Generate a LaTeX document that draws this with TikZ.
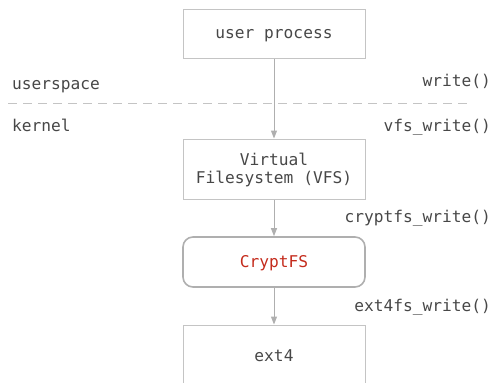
\documentclass[tikz,border=0pt]{standalone}
\usepackage{fontspec}
\setmonofont{DejaVu Sans Mono}
\usetikzlibrary{arrows.meta}
\definecolor{txt}{HTML}{474747}
\definecolor{boxline}{HTML}{C4C4C4}
\definecolor{arrowline}{HTML}{AFAFAF}
\definecolor{cryptred}{HTML}{C42B1C}
\begin{document}
\begin{tikzpicture}[x=1pt,y=-1pt,
  every node/.style={font=\ttfamily\fontsize{16.2}{18}\selectfont, text=txt},
  layerbox/.style={draw=boxline, line width=1pt, minimum width=182pt, inner sep=0pt},
  cryptbox/.style={draw=arrowline, line width=1.6pt, rounded corners=10pt, minimum width=182pt, minimum height=50pt, inner sep=0pt},
  boxtext/.style={anchor=base, inner sep=0pt},
  flow/.style={draw=arrowline, line width=1pt, -{Triangle[width=6pt,length=8pt]}},
  callname/.style={anchor=base east, inner sep=0pt},
  zonename/.style={anchor=base west, inner sep=0pt}]
\useasboundingbox (0,0) rectangle (491,383);
\clip (0,0) rectangle (491,383);
% boxes of the write path
\node[layerbox, minimum height=49pt] (user) at (274,33.5) {};
\node[boxtext] (userT) at (274,38) {user process};
\node[layerbox, minimum height=60pt] (vfs) at (274,169) {};
\node[boxtext] (vfsT1) at (274,165) {Virtual};
\node[boxtext] (vfsT2) at (274,183) {Filesystem (VFS)};
\node[cryptbox] (crypt) at (274,262) {};
\node[boxtext, text=cryptred] (cryptT) at (274,267) {CryptFS};
\node[layerbox, minimum height=70pt] (ext) at (274,360) {};
\node[boxtext] (extT) at (274,361) {ext4};
% boundary between user space and kernel
\coordinate (sepL) at (8,103);
\coordinate (sepR) at (472,103);
\draw[boxline, line width=1pt, dash pattern=on 9pt off 6pt] (sepL) -- (sepR);
\node[zonename] (us) at (12,89) {userspace};
\node[zonename] (kn) at (12,131) {kernel};
% call arrows
\draw[flow] (user) -- (vfs);
\draw[flow] (vfs) -- (crypt);
\draw[flow] (crypt) -- (ext);
% function names
\node[callname] (c1) at (491,86) {write()};
\node[callname] (c2) at (491,131) {vfs\_write()};
\node[callname] (c3) at (491,222) {cryptfs\_write()};
\node[callname] (c4) at (491,311) {ext4fs\_write()};
\end{tikzpicture}
\end{document}
